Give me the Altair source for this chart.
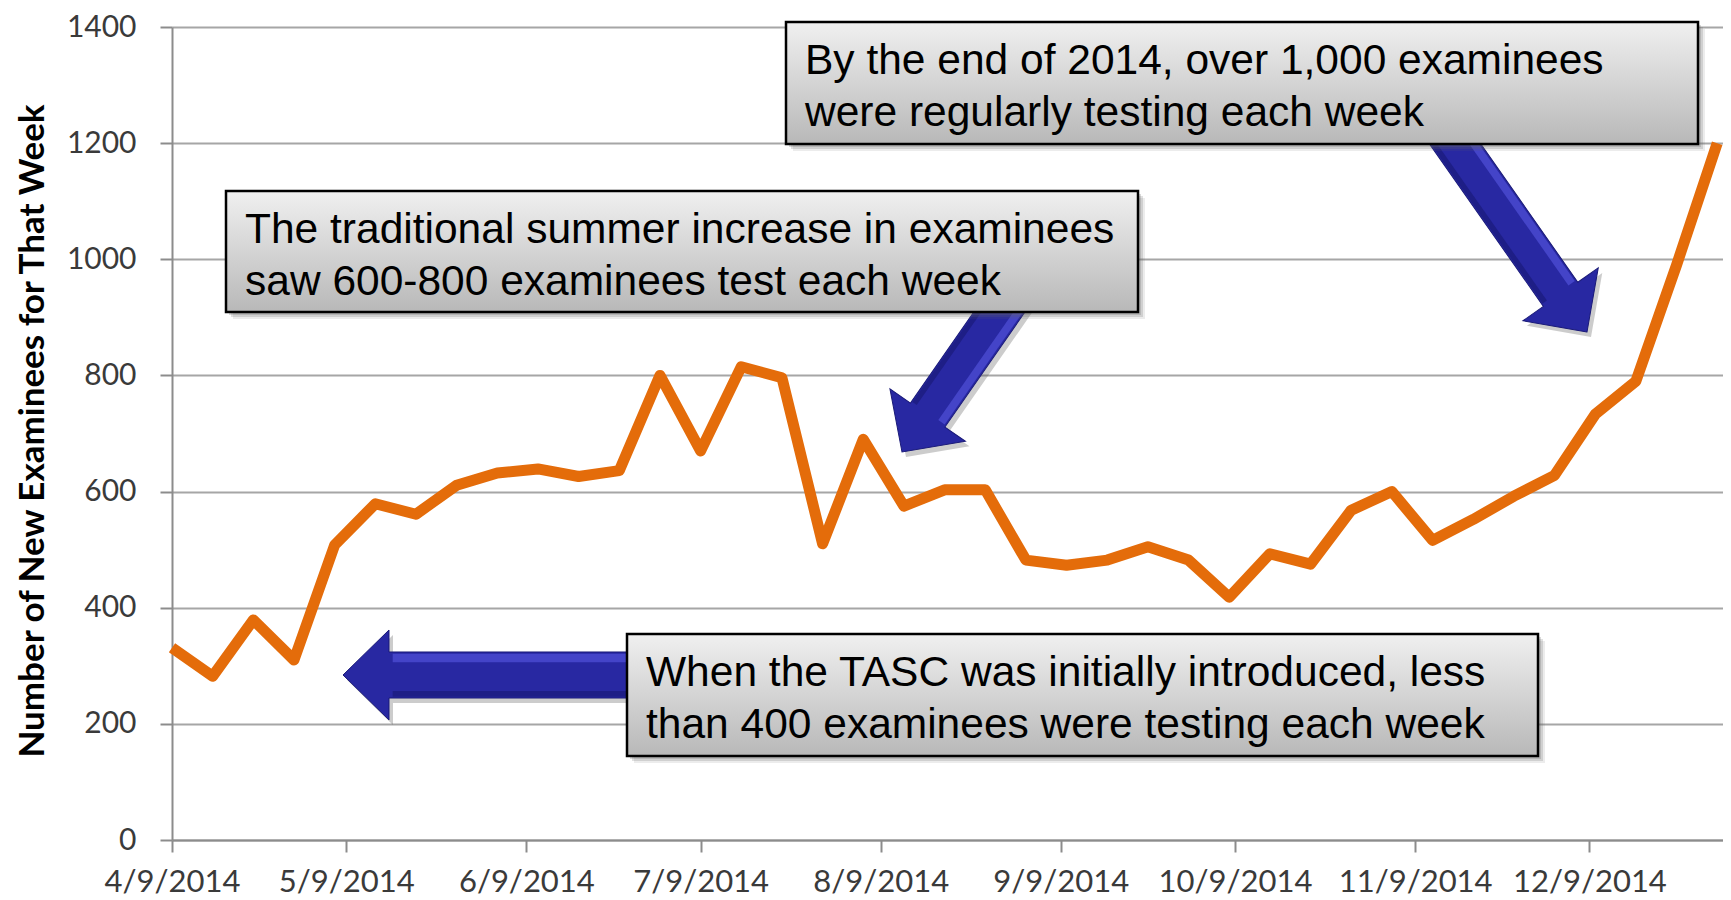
import math
import altair as alt
import pandas as pd

# ---------------- data ----------------
week_dates = [
    "2014-04-09", "2014-04-16", "2014-04-23", "2014-04-30",
    "2014-05-07", "2014-05-14", "2014-05-21", "2014-05-28",
    "2014-06-04", "2014-06-11", "2014-06-18", "2014-06-25",
    "2014-07-02", "2014-07-09", "2014-07-16", "2014-07-23", "2014-07-30",
    "2014-08-06", "2014-08-13", "2014-08-20", "2014-08-27",
    "2014-09-03", "2014-09-10", "2014-09-17", "2014-09-24",
    "2014-10-01", "2014-10-08", "2014-10-15", "2014-10-22", "2014-10-29",
    "2014-11-05", "2014-11-12", "2014-11-19", "2014-11-26",
    "2014-12-03", "2014-12-10", "2014-12-17", "2014-12-24", "2014-12-31",
]
new_examinees = [
    331, 282, 379, 310,
    508, 579, 561, 611,
    632, 639, 626, 636,
    800, 670, 815, 796, 510,
    690, 575, 603, 603,
    482, 473, 482, 505,
    482, 418, 493, 475, 568,
    600, 516, 552, 592,
    628, 733, 790, 990, 1200,
]
tick_dates = [(2014, 4, 9), (2014, 5, 9), (2014, 6, 9), (2014, 7, 9), (2014, 8, 9),
              (2014, 9, 9), (2014, 10, 9), (2014, 11, 9), (2014, 12, 9)]
y_ticks = [0, 200, 400, 600, 800, 1000, 1200, 1400]

notes = [
    ["By the end of 2014, over 1,000 examinees", "were regularly testing each week"],
    ["The traditional summer increase in examinees", "saw 600-800 examinees test each week"],
    ["When the TASC was initially introduced, less", "than 400 examinees were testing each week"],
]

df = pd.DataFrame({"week": [d + "T00:00:00" for d in week_dates], "n": new_examinees})
one = pd.DataFrame({"k": [0]})

W, H = 1551, 813
SH = 6  # annotation vertical shift so they keep their place on the page

x = alt.X(
    "week:T",
    scale=alt.Scale(domain=[alt.DateTime(year=2014, month=4, date=9),
                            alt.DateTime(year=2015, month=1, date=1)]),
    axis=alt.Axis(
        values=[alt.DateTime(year=a, month=b, date=c) for a, b, c in tick_dates],
        format="%-m/%-d/%Y", title=None, grid=False, tickSize=12,
        labelPadding=39, labelBaseline="alphabetic", labelFlush=False,
        labelOverlap=False,
    ),
)
y = alt.Y(
    "n:Q",
    scale=alt.Scale(domain=[0, 1400], nice=False),
    axis=alt.Axis(
        values=y_ticks, format="d", title="Number of New Examinees for That Week",
        grid=True, tickSize=12, labelPadding=24, labelFlush=False, labelFontSize=30,
        titleFont="Lato", titleFontWeight="bold", titleFontSize=35,
        titleColor="#000000", titleAngle=270, titleX=-129, titleY=H / 2 - 3,
        titleBaseline="alphabetic", titleAlign="center",
    ),
)

line = alt.Chart(df).mark_line(color="#E46C0A", strokeWidth=11, strokeJoin="round").encode(x=x, y=y)


# ---------------- arrows (annotation geometry, in plot pixels) ----------------
def arrow_layers(tip, tail, hl, hw, sw, hi_side):
    tip = (tip[0], tip[1] - SH)
    tail = (tail[0], tail[1] - SH)
    dx, dy = tip[0] - tail[0], tip[1] - tail[1]
    L = math.hypot(dx, dy)
    r = L / 2
    a = -1 + hl / r
    ang = math.degrees(math.atan2(dx, -dy)) % 360
    cx, cy = (tip[0] + tail[0]) / 2, (tip[1] + tail[1]) / 2
    body = (f"M0,-1 L{hw/r:.4f},{a:.4f} L{sw/r:.4f},{a:.4f} L{sw/r:.4f},1 "
            f"L{-sw/r:.4f},1 L{-sw/r:.4f},{a:.4f} L{-hw/r:.4f},{a:.4f} Z")
    s = hi_side
    o1, o2 = s * sw / r * 0.92, s * sw / r * 0.55
    lo, hi = min(o1, o2), max(o1, o2)
    stripe = f"M{lo:.4f},{a+0.02:.4f} L{hi:.4f},{a+0.02:.4f} L{hi:.4f},1 L{lo:.4f},1 Z"
    d1, d2 = -s * sw / r * 0.95, -s * sw / r * 0.7
    lo2, hi2 = min(d1, d2), max(d1, d2)
    dark = f"M{lo2:.4f},{a+0.02:.4f} L{hi2:.4f},{a+0.02:.4f} L{hi2:.4f},1 L{lo2:.4f},1 Z"
    size = L * L
    layers = []
    layers.append(alt.Chart(one).mark_point(shape=body, filled=True, color="#555555", opacity=0.3,
                                            size=size, angle=ang, strokeWidth=0)
                  .encode(x=alt.value(cx + 4), y=alt.value(cy + 5)))
    layers.append(alt.Chart(one).mark_point(shape=body, filled=True, color="#2828A2", opacity=1,
                                            size=size, angle=ang, stroke="#1A1A78", strokeWidth=1)
                  .encode(x=alt.value(cx), y=alt.value(cy)))
    layers.append(alt.Chart(one).mark_point(shape=stripe, filled=True, color="#5050D8", opacity=0.7,
                                            size=size, angle=ang, strokeWidth=0)
                  .encode(x=alt.value(cx), y=alt.value(cy)))
    layers.append(alt.Chart(one).mark_point(shape=dark, filled=True, color="#1C1C80", opacity=0.8,
                                            size=size, angle=ang, strokeWidth=0)
                  .encode(x=alt.value(cx), y=alt.value(cy)))
    return layers


arrows = []
arrows += arrow_layers((171, 654), (540, 654), 46, 45, 23, 1)
arrows += arrow_layers((730, 431), (842, 270), 45, 46, 21, -1)
arrows += arrow_layers((1415, 311), (1253, 80), 46, 46, 21, -1)

# ---------------- boxes ----------------
grad = alt.Gradient(
    gradient="linear",
    stops=[alt.GradientStop(color="#F0F0F0", offset=0), alt.GradientStop(color="#B8B8B8", offset=1)],
    x1=0, x2=0, y1=0, y2=1,
)
box_geo = [(614, 1526, 1, 123), (54, 966, 170, 291), (455, 1366, 613, 735)]

boxes = []
for (x0, x1, y0, y1), lines_ in zip(box_geo, notes):
    y0, y1 = y0 - SH, y1 - SH
    for off, op in [(7, 0.12), (5, 0.2), (3, 0.25)]:
        boxes.append(alt.Chart(one).mark_rect(color="#666666", opacity=op).encode(
            x=alt.value(x0 + off), x2=alt.value(x1 + off), y=alt.value(y0 + off), y2=alt.value(y1 + off)))
    boxes.append(alt.Chart(one).mark_rect(fill=grad, stroke="#000000", strokeWidth=2.5).encode(
        x=alt.value(x0), x2=alt.value(x1), y=alt.value(y0), y2=alt.value(y1)))
    boxes.append(alt.Chart(one).mark_text(
        align="left", baseline="alphabetic", font="Liberation Sans", fontSize=42.5,
        lineHeight=52, color="#000000").encode(
        x=alt.value(x0 + 19), y=alt.value(y0 + 52), text=alt.value(lines_)))

chart = alt.layer(line, *arrows, *boxes).properties(
    width=W, height=H,
    autosize="none",
    padding={"left": 164, "top": 19, "right": 0, "bottom": 58},
).configure_view(stroke=None).configure_axis(
    labelFont="Lato", labelFontSize=31, labelColor="#3A3A3A",
    domainColor="#8C8C8C", domainWidth=2, tickColor="#8C8C8C", tickWidth=2,
    gridColor="#A6A6A6", gridWidth=2,
)

chart.save("out.html", embed_options={"renderer": "svg", "actions": False})
